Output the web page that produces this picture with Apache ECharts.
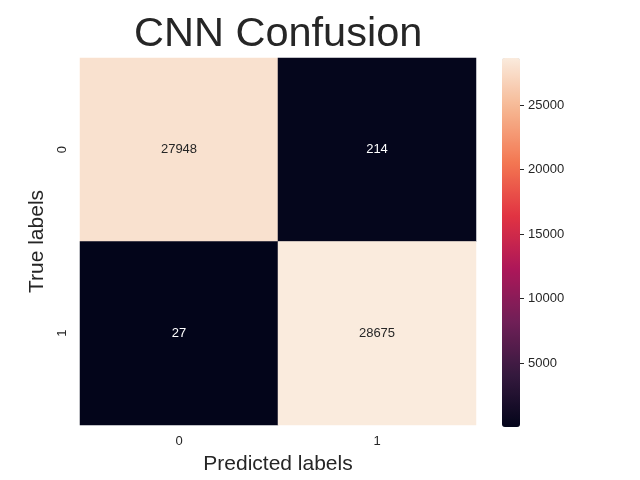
<!DOCTYPE html>
<html>
<head>
<meta charset="utf-8">
<script src="https://cdn.jsdelivr.net/npm/echarts@6/dist/echarts.min.js"></script>
<style>
  html, body { margin: 0; padding: 0; background: #fff; }
  #chart { width: 640px; height: 480px; }
</style>
</head>
<body>
<div id="chart"></div>
<script>
// confusion matrix, rows = true label, cols = predicted label
const predLabels = ['0', '1']
const trueLabels = ['0', '1']
const counts = [
  [27948, 214],
  [27, 28675]
]
const colorbarTicks = [5000, 10000, 15000, 20000, 25000]
// seaborn "rocket" stops
const rocket = ['#03051a', '#35193e', '#701f57', '#ad1759', '#e13342', '#f37651', '#f6b48f', '#faebdd']

const allVals = counts.flat()
const vmin = Math.min(...allVals)
const vmax = Math.max(...allVals)
const textColor = '#262626'
const font = 'Liberation Sans, Arial, sans-serif'

const cells = []
counts.forEach((row, yi) => {
  row.forEach((v, xi) => {
    const light = (v - vmin) / (vmax - vmin) > 0.5
    cells.push({
      value: [xi, yi, v],
      label: { color: light ? textColor : '#ffffff' }
    })
  })
})

const myChart = echarts.init(document.getElementById('chart'))
const options = {
  backgroundColor: '#fff',
  animation: false,
  title: {
    text: 'CNN Confusion',
    left: 134,
    top: 14,
    padding: 0,
    textStyle: { fontSize: 41.5, fontWeight: 'normal', color: textColor, fontFamily: font }
  },
  grid: [
    { left: 80, top: 58, width: 396, height: 368 },
    { left: 502, top: 58, width: 18, height: 369, z: 10 }
  ],
  xAxis: [{
    type: 'category',
    data: predLabels,
    gridIndex: 0,
    name: 'Predicted labels',
    nameLocation: 'middle',
    nameGap: 29,
    nameTextStyle: { fontSize: 21, color: textColor, fontFamily: font },
    axisLine: { show: false },
    axisTick: { show: false },
    splitLine: { show: false },
    axisLabel: { fontSize: 13, color: textColor, margin: 10, fontFamily: font }
  }, {
    type: 'value',
    gridIndex: 1,
    show: false
  }],
  yAxis: [{
    type: 'category',
    data: trueLabels,
    inverse: true,
    gridIndex: 0,
    name: 'True labels',
    nameLocation: 'middle',
    nameGap: 26,
    nameTextStyle: { fontSize: 21, color: textColor, fontFamily: font },
    axisLine: { show: false },
    axisTick: { show: false },
    splitLine: { show: false },
    axisLabel: { fontSize: 13, color: textColor, rotate: 90, margin: 11, fontFamily: font }
  }, {
    // colorbar scale
    type: 'value',
    gridIndex: 1,
    position: 'right',
    min: vmin,
    max: vmax,
    z: 10,
    axisLine: { show: false, onZero: false },
    splitLine: { show: false },
    axisTick: { show: true, inside: false, length: 4, customValues: colorbarTicks, lineStyle: { color: textColor, width: 1 } },
    axisLabel: {
      fontSize: 13, color: textColor, margin: 8, customValues: colorbarTicks, fontFamily: font,
      formatter: (v) => String(v)
    }
  }],
  visualMap: {
    type: 'continuous',
    min: vmin,
    max: vmax,
    calculable: false,
    seriesIndex: 0,
    left: 502,
    top: 58,
    padding: 0,
    itemWidth: 18,
    itemHeight: 369,
    text: null,
    inRange: { color: rocket }
  },
  series: [{
    type: 'heatmap',
    xAxisIndex: 0,
    yAxisIndex: 0,
    data: cells,
    itemStyle: { borderWidth: 0 },
    label: {
      show: true,
      fontSize: 13,
      fontFamily: font,
      formatter: (p) => String(p.value[2])
    },
    emphasis: { disabled: true }
  }]
}
myChart.setOption(options)
</script>
</body>
</html>
